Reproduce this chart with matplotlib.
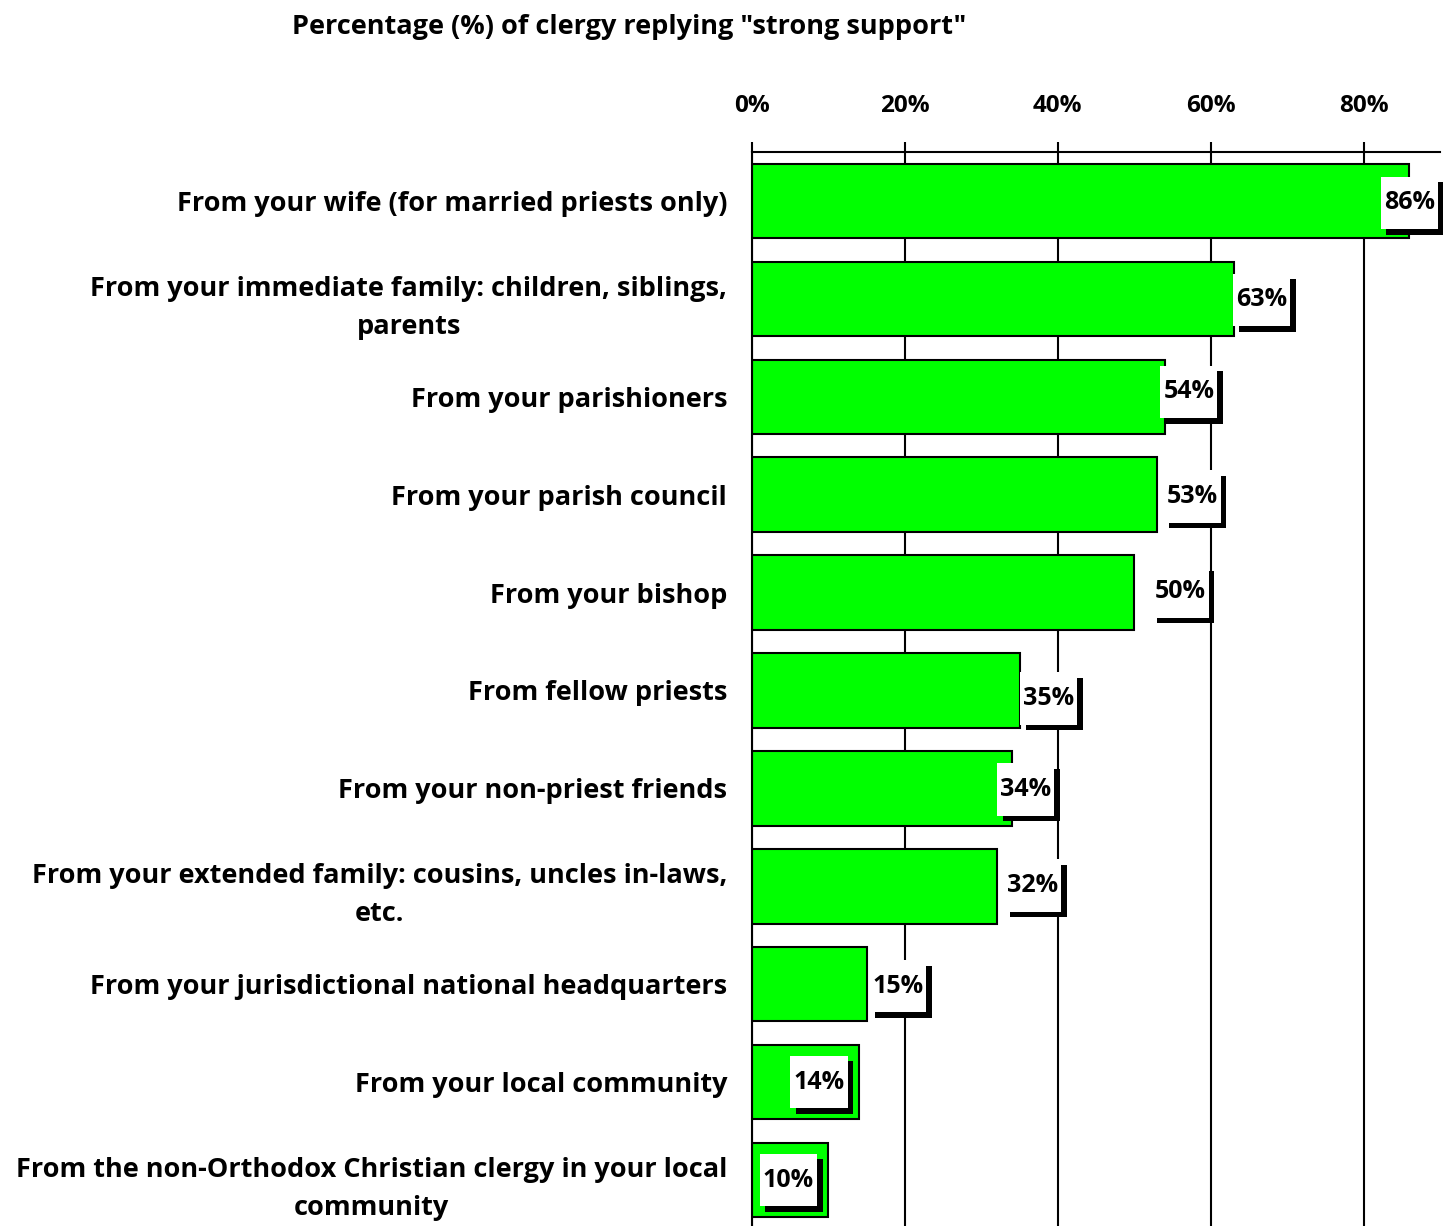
import numpy as np
import matplotlib.pyplot as plt
from matplotlib import patheffects
from matplotlib.path import Path

categories = [
    "From your wife (for married priests only)",
    "From your immediate family: children, siblings,\nparents",
    "From your parishioners",
    "From your parish council",
    "From your bishop",
    "From fellow priests",
    "From your non-priest friends",
    "From your extended family: cousins, uncles in-laws,\netc.",
    "From your jurisdictional national headquarters",
    "From your local community",
    "From the non-Orthodox Christian clergy in your local\ncommunity",
]
values = [86, 63, 54, 53, 50, 35, 34, 32, 15, 14, 10]
tick_values = [0, 20, 40, 60, 80]
tick_labels = ["0%", "20%", "40%", "60%", "80%"]

# label nudges (pixels) to mimic the original label placement
label_dx = [0, 28, 24, 35, 46, 29, 14, 36, 31, -40, -40]
label_dy = [0, 1, 7, 0, 3, -6, 1, 3, 0, 2, 2]


def label_box(x0, y0, width, height, mutation_size):
    # narrow horizontal padding, tall vertical padding
    px = 0.12 * mutation_size
    py = 0.55 * mutation_size
    x1, y1 = x0 + width + px, y0 + height + py
    x0, y0 = x0 - px, y0 - py
    return Path([(x0, y0), (x1, y0), (x1, y1), (x0, y1), (x0, y0)], closed=True)


plt.rcParams['font.family'] = ['Open Sans', 'DejaVu Sans']

fig = plt.figure(figsize=(14.55, 12.26), dpi=100)
ax = fig.add_axes([752 / 1455, 1 - 1229 / 1226, 688 / 1455, 1077 / 1226])

y = np.arange(len(values))
ax.barh(y, values, height=0.76, color='#00ff00', edgecolor='black', linewidth=1.5, zorder=2)

ax.set_xlim(0, 90)
ax.set_ylim(len(values) - 0.5, -0.5)

ax.xaxis.tick_top()
ax.set_xticks(tick_values)
ax.set_xticklabels(tick_labels, fontsize=17.5, fontweight='bold')
ax.tick_params(axis='x', length=7.5, width=1.5, pad=17)
ax.grid(axis='x', color='black', linewidth=1.5, zorder=1)

ax.set_yticks(y)
ax.set_yticklabels(categories, fontsize=19.5, fontweight='bold',
                   multialignment='center', linespacing=1.6)
ax.tick_params(axis='y', length=0, pad=18)

for side in ['right', 'bottom']:
    ax.spines[side].set_visible(False)
ax.spines['left'].set_linewidth(1.5)
ax.spines['top'].set_linewidth(1.5)

for i, v in enumerate(values):
    t = ax.annotate(f"{v}%", (v, i), xytext=(label_dx[i], label_dy[i] - 2),
                    textcoords='offset pixels', ha='center', va='center',
                    fontsize=18, fontweight='bold', zorder=4,
                    bbox=dict(boxstyle=label_box, fc='white', ec='none'))
    t.get_bbox_patch().set_path_effects([
        patheffects.SimplePatchShadow(offset=(4, -4), shadow_rgbFace='black', alpha=1),
        patheffects.Normal()])

fig.text(629 / 1455, 1 - 27 / 1226, 'Percentage (%) of clergy replying "strong support"',
         ha='center', va='center', fontsize=19.5, fontweight='bold')

fig.savefig('out.png', dpi=100)
